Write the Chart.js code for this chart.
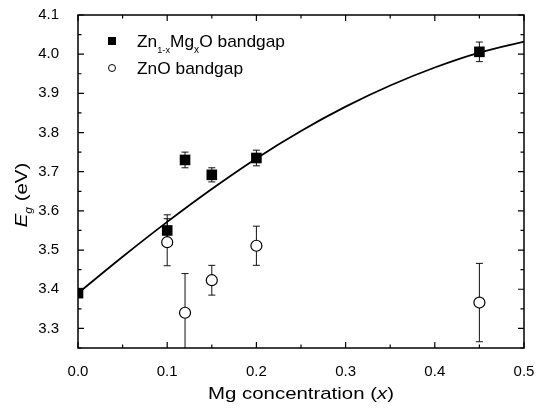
<!DOCTYPE html>
<html>
<head>
<meta charset="utf-8">
<script src="https://cdn.jsdelivr.net/npm/chart.js@4.4.1/dist/chart.umd.min.js"></script>
<style>
html,body{margin:0;padding:0;background:#fff;}
canvas{display:block;}
</style>
</head>
<body>
<canvas id="c" width="537" height="409"></canvas>
<script>
// ---- data ----
const mgX      = [0.0, 0.10, 0.12, 0.15, 0.20, 0.45];
const alloyGap = [3.39, 3.55, 3.73, 3.692, 3.735, 4.006];
const alloyErr = [0, 0.04, 0.02, 0.018, 0.02, 0.025];

const znoX     = [0.10, 0.12, 0.15, 0.20, 0.45];
const znoGap   = [3.52, 3.34, 3.423, 3.511, 3.366];
const znoErr   = [0.06, 0.10, 0.038, 0.05, 0.10];

const fitX     = [0, 0.05, 0.10, 0.15, 0.20, 0.25, 0.30, 0.35, 0.40, 0.45, 0.50];
const fitY     = [3.39, 3.483, 3.572, 3.656, 3.734, 3.804, 3.866, 3.92, 3.966, 4.004, 4.032];

const xTicks   = [0.0, 0.1, 0.2, 0.3, 0.4, 0.5];
const yTicks   = [3.3, 3.4, 3.5, 3.6, 3.7, 3.8, 3.9, 4.0, 4.1];

const FONT = 'Liberation Sans, Arial, Helvetica, sans-serif';

const pts = (xs, ys, es) => xs.map((x, i) => ({x: x, y: ys[i], e: es ? es[i] : 0}));

function drawText(ctx, parts, x, y, sx) {
  ctx.save();
  ctx.translate(x, y);
  ctx.scale(sx, 1);
  let cx = 0;
  for (const p of parts) {
    ctx.font = (p.italic ? 'italic ' : '') + p.size + 'px ' + FONT;
    ctx.fillText(p.t, cx, p.dy || 0);
    cx += ctx.measureText(p.t).width;
  }
  ctx.restore();
}
function textWidth(ctx, parts, sx) {
  let w = 0;
  for (const p of parts) {
    ctx.font = (p.italic ? 'italic ' : '') + p.size + 'px ' + FONT;
    w += ctx.measureText(p.t).width;
  }
  return w * sx;
}

const decor = {
  id: 'decor',
  beforeDatasetsDraw(chart) {
    const ctx = chart.ctx, xs = chart.scales.x, ys = chart.scales.y, a = chart.chartArea;
    ctx.save();
    ctx.beginPath();
    ctx.rect(a.left, a.top, a.right - a.left, a.bottom - a.top);
    ctx.clip();
    ctx.strokeStyle = '#111';
    ctx.lineWidth = 1;
    [0, 1].forEach(di => {
      chart.data.datasets[di].data.forEach(p => {
        if (!p.e) return;
        const px = xs.getPixelForValue(p.x);
        const y1 = ys.getPixelForValue(p.y + p.e);
        const y2 = ys.getPixelForValue(p.y - p.e);
        ctx.beginPath();
        ctx.moveTo(px, y1); ctx.lineTo(px, y2);
        ctx.moveTo(px - 3.5, y1); ctx.lineTo(px + 3.5, y1);
        ctx.moveTo(px - 3.5, y2); ctx.lineTo(px + 3.5, y2);
        ctx.stroke();
      });
    });
    ctx.restore();
  },
  afterDraw(chart) {
    const ctx = chart.ctx, xs = chart.scales.x, ys = chart.scales.y, a = chart.chartArea;
    ctx.save();
    ctx.strokeStyle = '#000';
    ctx.lineWidth = 1.5;
    ctx.strokeRect(a.left, a.top, a.right - a.left, a.bottom - a.top);
    ctx.lineWidth = 1.2;
    ctx.beginPath();
    for (let i = 0; i <= 10; i++) {
      const v = i * 0.05;
      const px = xs.getPixelForValue(v);
      const L = (i % 2 === 0) ? 6 : 3.5;
      ctx.moveTo(px, a.bottom); ctx.lineTo(px, a.bottom - L);
      ctx.moveTo(px, a.top); ctx.lineTo(px, a.top + L);
    }
    for (let i = 0; i <= 17; i++) {
      const v = 3.25 + i * 0.05;
      const py = ys.getPixelForValue(v);
      const L = (i % 2 === 1) ? 6 : 3.5;
      ctx.moveTo(a.left, py); ctx.lineTo(a.left + L, py);
      ctx.moveTo(a.right, py); ctx.lineTo(a.right - L, py);
    }
    ctx.stroke();

    ctx.fillStyle = '#000';
    ctx.textBaseline = 'alphabetic';
    ctx.textAlign = 'left';
    const xt = [{t: 'Mg concentration (', size: 17}, {t: 'x', size: 17, italic: true}, {t: ')', size: 17}];
    const sxT = 1.2;
    const wx = textWidth(ctx, xt, sxT);
    drawText(ctx, xt, (a.left + a.right) / 2 - wx / 2, 399, sxT);
    const yt = [{t: 'E', size: 17, italic: true}, {t: 'g', size: 10, dy: 5, italic: true}, {t: ' (eV)', size: 17}];
    const wy = textWidth(ctx, yt, sxT);
    ctx.save();
    ctx.translate(27, 195);
    ctx.rotate(-Math.PI / 2);
    drawText(ctx, yt, -wy / 2, 0, sxT);
    ctx.restore();

    // legend
    const lx = a.left + 34, ly1 = a.top + 26, ly2 = a.top + 53;
    ctx.fillStyle = '#000';
    ctx.fillRect(lx - 4, ly1 - 4, 8, 8);
    ctx.beginPath();
    ctx.arc(lx, ly2, 3.5, 0, Math.PI * 2);
    ctx.fillStyle = '#fff';
    ctx.fill();
    ctx.lineWidth = 1;
    ctx.strokeStyle = '#000';
    ctx.stroke();
    ctx.fillStyle = '#000';
    const sxL = 1.02;
    drawText(ctx, [
      {t: 'Zn', size: 17}, {t: '1-x', size: 9, dy: 6}, {t: 'Mg', size: 17},
      {t: 'x', size: 10, dy: 6}, {t: 'O bandgap', size: 17}
    ], lx + 25, ly1 + 6, sxL);
    drawText(ctx, [{t: 'ZnO bandgap', size: 17}], lx + 25, ly2 + 6, sxL);
    ctx.restore();
  }
};

new Chart(document.getElementById('c'), {
  type: 'scatter',
  data: {
    datasets: [
      {
        label: 'Zn1-xMgxO bandgap',
        data: pts(mgX, alloyGap, alloyErr),
        pointStyle: 'rect',
        pointRadius: 7.5,
        backgroundColor: '#000',
        borderColor: '#000',
        borderWidth: 0,
        order: 2
      },
      {
        label: 'ZnO bandgap',
        data: pts(znoX, znoGap, znoErr),
        pointStyle: 'circle',
        pointRadius: 5.5,
        backgroundColor: '#fff',
        borderColor: '#000',
        borderWidth: 1.2,
        order: 3
      },
      {
        type: 'line',
        label: 'fit',
        data: pts(fitX, fitY),
        borderColor: '#000',
        borderWidth: 1.8,
        pointRadius: 0,
        fill: false,
        cubicInterpolationMode: 'monotone',
        order: 1
      }
    ]
  },
  options: {
    responsive: false,
    animation: false,
    events: [],
    layout: {padding: {left: 0, right: 13, top: 15, bottom: 0}},
    plugins: {legend: {display: false}, tooltip: {enabled: false}},
    scales: {
      x: {
        type: 'linear',
        min: 0, max: 0.5,
        grid: {display: false},
        border: {display: false},
        afterFit: s => { s.height = 61; s.paddingLeft = 0; s.paddingRight = 0; },
        afterBuildTicks: s => { s.ticks = xTicks.map(v => ({value: v})); },
        ticks: {
          padding: 7,
          color: '#000',
          font: {family: FONT, size: 15},
          maxRotation: 0,
          autoSkip: false,
          callback: v => Number(v).toFixed(1)
        }
      },
      y: {
        type: 'linear',
        min: 3.25, max: 4.1,
        grid: {display: false},
        border: {display: false},
        afterFit: s => { s.width = 78; s.paddingTop = 0; s.paddingBottom = 0; },
        afterBuildTicks: s => { s.ticks = yTicks.map(v => ({value: v})); },
        ticks: {
          padding: 11,
          color: '#000',
          font: {family: FONT, size: 15},
          autoSkip: false,
          callback: v => Number(v).toFixed(1)
        }
      }
    }
  },
  plugins: [decor]
});
</script>
</body>
</html>
